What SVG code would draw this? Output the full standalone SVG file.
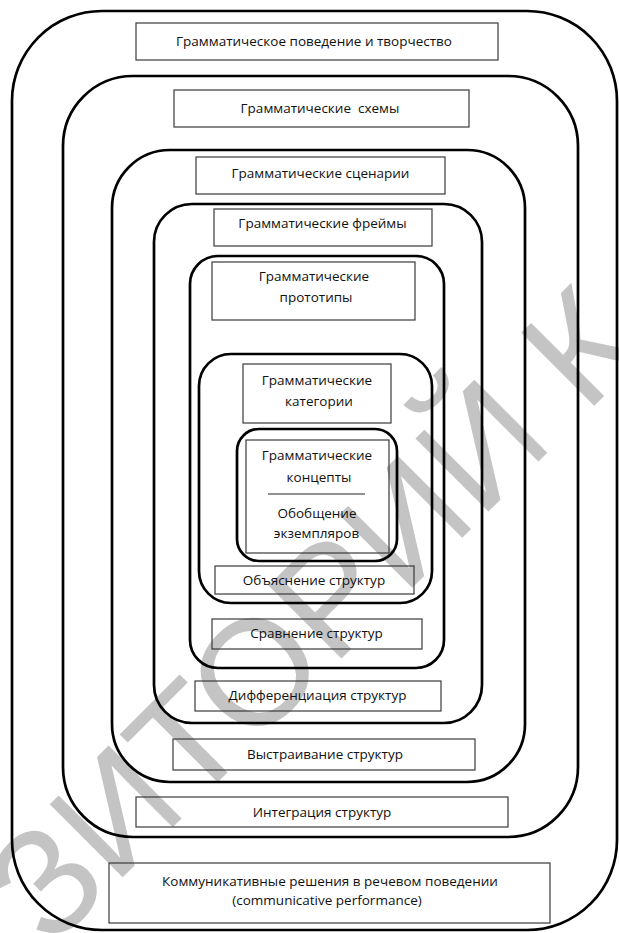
<svg xmlns="http://www.w3.org/2000/svg" width="619" height="933" viewBox="0 0 619 933">
<style>
.frame{fill:none;stroke:#000;stroke-width:2.7}
.box{fill:none;stroke:#3a3a3a;stroke-width:1.2}
.sep{stroke:#222;stroke-width:1}
.t{font-family:"Open Sans","Noto Sans","DejaVu Sans",sans-serif;font-size:13.5px;fill:#111;text-anchor:middle}
.wm{font-family:"Liberation Sans",Arial,sans-serif;font-size:150px;fill:#c4c4c4}
</style>
<rect width="619" height="933" fill="#fff"/>
<g id="watermark">
<text class="wm" transform="translate(50,950) rotate(-45)">ЗИТОРИЙ К</text>
</g>
<g id="frames">
<rect id="f1" class="frame" x="12" y="11" width="605" height="919" rx="90" ry="90"/>
<rect id="f2" class="frame" x="63" y="76" width="515" height="761" rx="70" ry="70"/>
<rect id="f3" class="frame" x="112" y="150" width="413" height="632" rx="58" ry="58"/>
<rect id="f4" class="frame" x="154" y="204" width="328" height="519" rx="38" ry="38"/>
<rect id="f5" class="frame" x="190" y="256" width="254" height="412" rx="28" ry="28"/>
<rect id="f6" class="frame" x="199" y="354" width="233" height="249" rx="32" ry="32"/>
<rect id="f7" class="frame" x="237" y="429" width="160" height="132" rx="22" ry="22"/>
</g>
<g id="n1">
<rect class="box" x="136" y="23" width="362" height="37"/>
<text class="t" x="314" y="46">Грамматическое поведение и творчество</text>
</g>
<g id="n2">
<rect class="box" x="174" y="90" width="295" height="37"/>
<text class="t" x="320" y="113" xml:space="preserve">Грамматические  схемы</text>
</g>
<g id="n3">
<rect class="box" x="196" y="157" width="249" height="37"/>
<text class="t" x="320.5" y="178">Грамматические сценарии</text>
</g>
<g id="n4">
<rect class="box" x="214" y="209" width="218" height="37"/>
<text class="t" x="322.5" y="228">Грамматические фреймы</text>
</g>
<g id="n5">
<rect class="box" x="212" y="262" width="203" height="58"/>
<text class="t" x="314" y="281">Грамматические</text>
<text class="t" x="316" y="302">прототипы</text>
</g>
<g id="n6">
<rect class="box" x="243" y="364" width="148" height="59"/>
<text class="t" x="317" y="385">Грамматические</text>
<text class="t" x="319" y="406">категории</text>
</g>
<g id="n7">
<rect class="box" x="246" y="440" width="143" height="113"/>
<text class="t" x="317" y="460">Грамматические</text>
<text class="t" x="319" y="482">концепты</text>
<line class="sep" x1="268" y1="494" x2="365" y2="494"/>
<text class="t" x="317" y="518">Обобщение</text>
<text class="t" x="316.5" y="538">экземпляров</text>
</g>
<g id="n8">
<rect class="box" x="215" y="566" width="199" height="28"/>
<text class="t" x="314" y="585">Объяснение структур</text>
</g>
<g id="n9">
<rect class="box" x="212" y="619" width="210" height="30"/>
<text class="t" x="316.5" y="638">Сравнение структур</text>
</g>
<g id="n10">
<rect class="box" x="195" y="681" width="246" height="30"/>
<text class="t" x="317.5" y="700">Дифференциация структур</text>
</g>
<g id="n11">
<rect class="box" x="173" y="739" width="302" height="31"/>
<text class="t" x="325" y="759">Выстраивание структур</text>
</g>
<g id="n12">
<rect class="box" x="136" y="797" width="372" height="30"/>
<text class="t" x="322" y="817">Интеграция структур</text>
</g>
<g id="n13">
<rect class="box" x="109" y="863" width="441" height="60"/>
<text class="t" x="330" y="886">Коммуникативные решения в речевом поведении</text>
<text class="t" x="327" y="905">(communicative performance)</text>
</g>
</svg>
